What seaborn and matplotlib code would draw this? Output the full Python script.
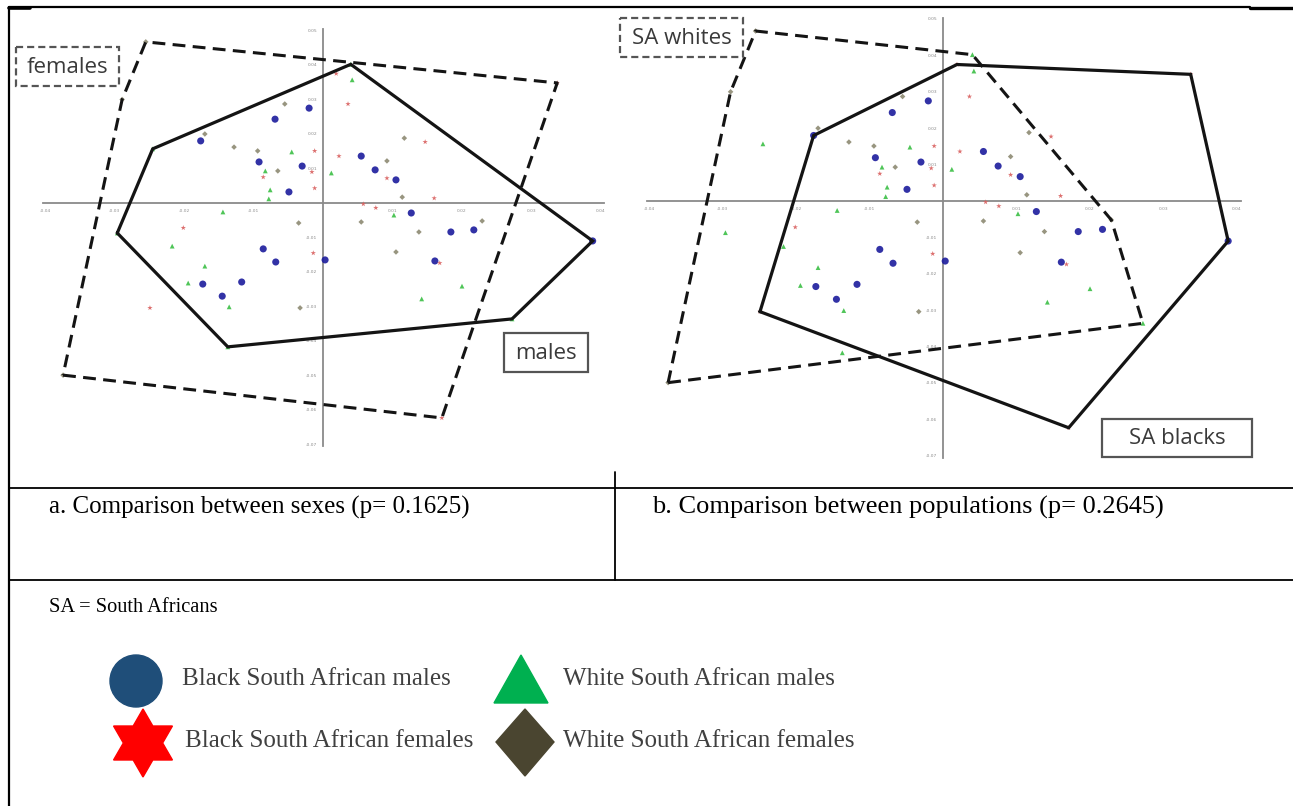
import numpy as np
import pandas as pd
import matplotlib
matplotlib.use("Agg")
import matplotlib.pyplot as plt
from matplotlib.patches import Polygon, Circle, Rectangle
import seaborn as sns

# ---------------- data (Procrustes / PCA-like scores) ----------------
bm_x = [-0.0176, -0.0020, -0.0069, -0.0092, -0.0030, -0.0049, 0.0055, 0.0075, 0.0105, -0.0086,
        -0.0068, 0.0003, -0.0117, -0.0173, -0.0145, 0.0127, 0.0184, 0.0217, 0.0161, 0.0388]
bm_y = [0.0180, 0.0275, 0.0243, 0.0119, 0.0107, 0.0032, 0.0136, 0.0096, 0.0067, -0.0133,
        -0.0171, -0.0165, -0.0229, -0.0235, -0.0270, -0.0029, -0.0084, -0.0078, -0.0168, -0.0110]

bf_x = [0.0337, 0.0171, -0.0249, 0.0019, 0.0036, 0.0147, 0.0023, 0.0092, 0.0160, -0.0086,
        -0.0012, -0.0016, -0.0012, -0.0201, -0.0014, 0.0058, 0.0076, 0.0168]
bf_y = [0.0348, -0.0623, -0.0304, 0.0375, 0.0287, 0.0177, 0.0136, 0.0072, 0.0014, 0.0075,
        0.0151, 0.0090, 0.0043, -0.0072, -0.0145, -0.0003, -0.0014, -0.0174]

wm_x = [0.0040, 0.0042, -0.0045, -0.0083, -0.0076, -0.0078, 0.0012, -0.0144, -0.0217, -0.0170,
        -0.0194, -0.0135, 0.0102, 0.0200, 0.0142, 0.0272, -0.0137, -0.0296, -0.0245]
wm_y = [0.0402, 0.0357, 0.0148, 0.0093, 0.0038, 0.0012, 0.0087, -0.0026, -0.0125, -0.0183,
        -0.0232, -0.0301, -0.0035, -0.0241, -0.0278, -0.0336, -0.0417, -0.0087, 0.0157]

wf_x = [-0.0255, -0.0289, -0.0374, -0.0055, -0.0170, -0.0128, -0.0094, -0.0065, 0.0092, 0.0117,
        0.0114, -0.0035, -0.0033, 0.0055, 0.0138, 0.0105, 0.0229]
wf_y = [0.0467, 0.0300, -0.0499, 0.0287, 0.0200, 0.0162, 0.0151, 0.0093, 0.0122, 0.0188,
        0.0017, -0.0058, -0.0304, -0.0055, -0.0084, -0.0142, -0.0052]

x_ticks = [-0.04, -0.03, -0.02, -0.01, 0.01, 0.02, 0.03, 0.04]
y_ticks = [-0.07, -0.06, -0.05, -0.04, -0.03, -0.02, -0.01, 0.01, 0.02, 0.03, 0.04, 0.05]

groups = ["Black South African males", "Black South African females",
          "White South African males", "White South African females"]
caption_a = "a. Comparison between sexes (p= 0.1625)"
caption_b = "b. Comparison between populations (p= 0.2645)"
footnote = "SA = South Africans"

df = pd.concat([
    pd.DataFrame({"x": bm_x, "y": bm_y, "group": groups[0]}),
    pd.DataFrame({"x": bf_x, "y": bf_y, "group": groups[1]}),
    pd.DataFrame({"x": wm_x, "y": wm_y, "group": groups[2]}),
    pd.DataFrame({"x": wf_x, "y": wf_y, "group": groups[3]}),
], ignore_index=True)
df["sex"] = np.where(df["group"].str.endswith("females"), "female", "male")
df["pop"] = np.where(df["group"].str.startswith("Black"), "black", "white")

# ---------------- styling ----------------
sns.set_theme(style="white")
plt.rcParams["font.family"] = ["DejaVu Sans"]
SERIF = ["Liberation Serif", "DejaVu Serif"]
SANS = ["Open Sans", "DejaVu Sans"]

pt_palette = {groups[0]: "#1c1c9c", groups[1]: "#d9605f",
              groups[2]: "#3cbf46", groups[3]: "#8d8a72"}
pt_markers = {groups[0]: "o", groups[1]: "*", groups[2]: "^", groups[3]: "D"}
pt_sizes = {groups[0]: 26, groups[1]: 16, groups[2]: 12, groups[3]: 8}
key_colors = {groups[0]: "#1f4e79", groups[1]: "#ff0000",
              groups[2]: "#00b050", groups[3]: "#4a4530"}

W, H = 1293, 806
fig = plt.figure(figsize=(W / 100, H / 100), dpi=100)
fig.patch.set_facecolor("white")


def hull(pts):
    pts = sorted(set(map(tuple, pts)))
    def cross(o, a, b):
        return (a[0] - o[0]) * (b[1] - o[1]) - (a[1] - o[1]) * (b[0] - o[0])
    lower, upper = [], []
    for p in pts:
        while len(lower) >= 2 and cross(lower[-2], lower[-1], p) <= 0:
            lower.pop()
        lower.append(p)
    for p in reversed(pts):
        while len(upper) >= 2 and cross(upper[-2], upper[-1], p) <= 0:
            upper.pop()
        upper.append(p)
    h = lower[:-1] + upper[:-1]
    return np.array(h + [h[0]])


def make_panel(box, origin, unit, solid_mask, dashed_mask):
    x0, y0, x1, y1 = box
    ox, oy = origin
    ux, uy = unit
    ax = fig.add_axes([x0 / W, 1 - y1 / H, (x1 - x0) / W, (y1 - y0) / H])
    ax.set_facecolor("none")
    ax.set_xlim((x0 - ox) / ux * 0.01, (x1 - ox) / ux * 0.01)
    ax.set_ylim((oy - y1) / uy * 0.01, (oy - y0) / uy * 0.01)
    for s in ["top", "right"]:
        ax.spines[s].set_visible(False)
    for s in ["left", "bottom"]:
        ax.spines[s].set_position(("data", 0))
        ax.spines[s].set_color("#8a8a8a")
        ax.spines[s].set_linewidth(1.3)
    ax.spines["bottom"].set_bounds(-0.0403, 0.0405)
    ax.spines["left"].set_bounds(-0.0705, 0.0503)
    ax.set_xticks(x_ticks)
    ax.set_xticklabels([f"{v:.2f}" for v in x_ticks])
    ax.set_yticks(y_ticks)
    ax.set_yticklabels([f"{v:.2f}" for v in y_ticks])
    ax.tick_params(axis="both", labelsize=3.2, colors="#8a8a8a", length=2, width=0.6,
                   pad=2, direction="out")
    ax.tick_params(axis="x", labelcolor="#909090")
    sns.scatterplot(data=df, x="x", y="y", hue="group", style="group", size="group",
                    palette=pt_palette, markers=pt_markers, sizes=pt_sizes,
                    linewidth=0, alpha=0.9, legend=False, ax=ax, zorder=3)
    ax.set_xlabel("")
    ax.set_ylabel("")
    hs = hull(df.loc[solid_mask, ["x", "y"]].values)
    hd = hull(df.loc[dashed_mask, ["x", "y"]].values)
    ax.plot(hs[:, 0], hs[:, 1], color="#141414", lw=2.3, solid_joinstyle="miter", zorder=4)
    ax.plot(hd[:, 0], hd[:, 1], color="#141414", lw=2.2, dashes=(4.2, 2.4), zorder=4)
    return ax


ax_a = make_panel((20, 12, 612, 470), (323, 203), (69.5, 34.5),
                  df["sex"] == "male", df["sex"] == "female")
ax_b = make_panel((640, 12, 1262, 470), (943, 201), (73.5, 36.4),
                  df["pop"] == "black", df["pop"] == "white")

# ---------------- overlay: table frame, boxes, captions, legend ----------------
ov = fig.add_axes([0, 0, 1, 1], zorder=10)
ov.set_xlim(0, W)
ov.set_ylim(H, 0)
ov.axis("off")
ov.set_facecolor("none")

lc = "black"
ov.plot([9, 9], [7, H], color=lc, lw=1.6)
ov.plot([9, 1250], [7, 7], color=lc, lw=1.6)
ov.plot([1250, W], [8, 8], color=lc, lw=2.4)
ov.plot([9, 30], [8, 8], color=lc, lw=2.6)
ov.plot([9, W], [488, 488], color=lc, lw=1.3)
ov.plot([9, W], [580, 580], color=lc, lw=1.3)
ov.plot([615, 615], [472, 580], color=lc, lw=1.3)


def label_box(x0, y0, x1, y1, text, dashed):
    ls = (0, (3.2, 1.8)) if dashed else "-"
    ov.add_patch(Rectangle((x0, y0), x1 - x0, y1 - y0, fill=True, facecolor="white",
                           edgecolor="#555555", lw=1.6, linestyle=ls, zorder=5))
    ov.text((x0 + x1) / 2, (y0 + y1) / 2 + 1, text, family=SANS, fontsize=16,
            color="#3a3a3a", ha="center", va="center", zorder=6)


label_box(16, 47, 119, 86, "females", True)
label_box(504, 333, 588, 372, "males", False)
label_box(620, 18, 743, 57, "SA whites", True)
label_box(1102, 419, 1252, 457, "SA blacks", False)

ov.text(49, 507, caption_a, family=SERIF, fontsize=18, color="black", va="center", ha="left")
ov.text(652, 507, caption_b, family=SERIF, fontsize=19, color="black", va="center", ha="left")
ov.text(49, 608, footnote, family=SERIF, fontsize=14.7, color="black", va="center", ha="left")

# legend keys
ov.add_patch(Circle((136, 681), 26, color=key_colors[groups[0]]))
ov.add_patch(Polygon([(521, 655), (494, 703), (548, 703)], closed=True,
                     color=key_colors[groups[2]]))
ang = np.deg2rad(np.arange(12) * 30 - 90)
rad = np.where(np.arange(12) % 2 == 0, 34, 34 / np.sqrt(3))
ov.add_patch(Polygon(np.c_[143 + rad * np.cos(ang), 743 + rad * np.sin(ang)], closed=True,
                     color=key_colors[groups[1]]))
ov.add_patch(Polygon([(525, 709), (554, 742), (525, 776), (496, 742)], closed=True,
                     color=key_colors[groups[3]]))

leg_pos = {groups[0]: (182, 679), groups[2]: (563, 679),
           groups[1]: (185, 741), groups[3]: (563, 741)}
for g, (lx, ly) in leg_pos.items():
    ov.text(lx, ly, g, family=SERIF, fontsize=18, color="#404040", va="center", ha="left")

fig.savefig("out.png", dpi=100, facecolor="white")
